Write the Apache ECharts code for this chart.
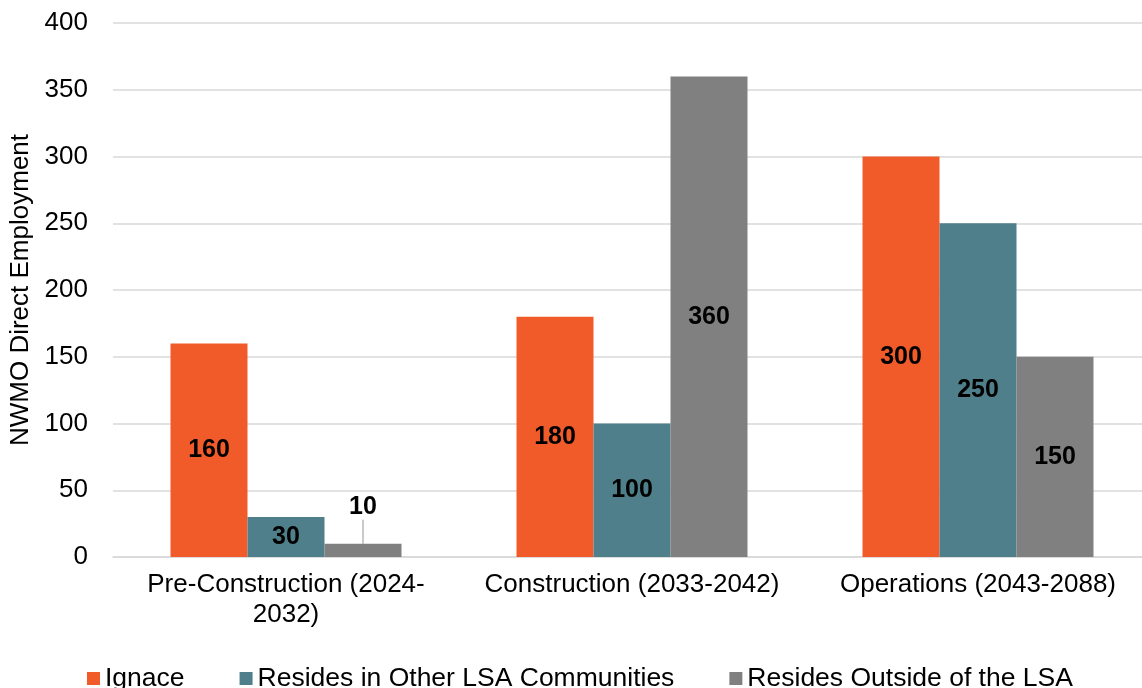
<!DOCTYPE html>
<html>
<head>
<meta charset="utf-8">
<script src="https://cdn.jsdelivr.net/npm/echarts@6/dist/echarts.min.js"></script>
<style>html,body{margin:0;padding:0;background:#fff;}#c{width:1142px;height:688px;}</style>
</head>
<body>
<div id="c"></div>
<script>
const categories = ['Pre-Construction (2024-\n2032)', 'Construction (2033-2042)', 'Operations (2043-2088)'];
const seriesNames = ['Ignace', 'Resides in Other LSA Communities', 'Resides Outside of the LSA'];
const ignace = [160, 180, 300];
const otherLSA = [30, 100, 250];
const outsideLSA = [10, 360, 150];
const yTicks = [0, 50, 100, 150, 200, 250, 300, 350, 400];
const colors = ['#f15a29', '#4e7f8a', '#808080'];

const font = 'Liberation Sans, Arial, sans-serif';
const chart = echarts.init(document.getElementById('c'));
const labelStyle = {show: true, position: 'inside', color: '#000', fontWeight: 'bold', fontSize: 25, fontFamily: font};

function mkSeries(name, data, idx) {
  return {
    name: name, type: 'bar', data: data.slice(), barWidth: 77, barGap: '0%', barCategoryGap: '33%',
    itemStyle: {color: colors[idx]}, label: labelStyle
  };
}
const s3 = mkSeries(seriesNames[2], outsideLSA, 2);
s3.data = outsideLSA.map((v, i) => i === 0 ? {value: v, label: {position: 'top', distance: 4}, labelLine: {show: true, length2: 0, lineStyle: {color: '#a6a6a6', width: 1.2}}} : v);
s3.labelLayout = function (p) { if (p.dataIndex === 0) return {dy: -20}; };

chart.setOption({
  animation: false,
  textStyle: {fontFamily: font},
  grid: {left: 113, top: 23, width: 1038, height: 534, containLabel: false, outerBoundsMode: 'none'},
  legend: {
    left: 87, top: 665, padding: 0, itemWidth: 13, itemHeight: 13, itemGap: 55, icon: 'rect',
    textStyle: {fontSize: 26.5, color: '#000', fontFamily: font},
    data: seriesNames
  },
  xAxis: {
    type: 'category', data: categories,
    axisLine: {lineStyle: {color: '#d9d9d9', width: 1.5}}, axisTick: {show: false},
    axisLabel: {color: '#000', fontSize: 26, lineHeight: 30, margin: 13, interval: 0, fontFamily: font}
  },
  yAxis: {
    type: 'value', min: yTicks[0], max: yTicks[yTicks.length - 1], interval: 50,
    name: 'NWMO Direct Employment', nameLocation: 'middle', nameGap: 75, nameRotate: 90,
    nameTextStyle: {color: '#000', fontSize: 26, fontFamily: font},
    axisLine: {show: false}, axisTick: {show: false},
    axisLabel: {color: '#000', fontSize: 26, margin: 25, fontFamily: font},
    splitLine: {lineStyle: {color: '#d9d9d9', width: 1.5}}
  },
  series: [mkSeries(seriesNames[0], ignace, 0), mkSeries(seriesNames[1], otherLSA, 1), s3]
});
</script>
</body>
</html>
